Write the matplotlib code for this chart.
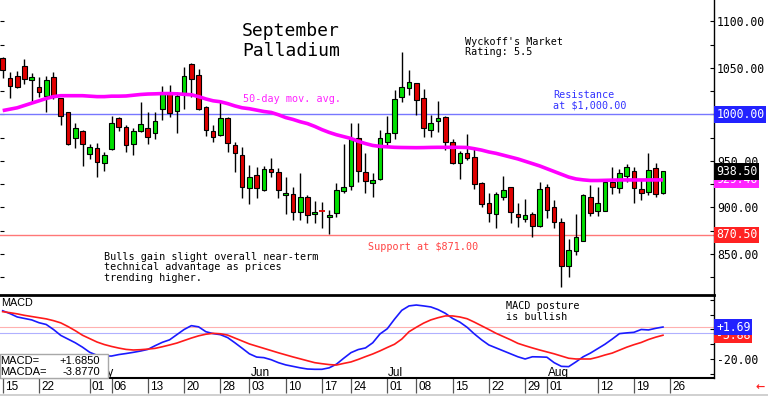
import numpy as np
import pandas as pd
import matplotlib
matplotlib.use('Agg')
import matplotlib.pyplot as plt
from matplotlib.patches import Rectangle
from matplotlib.lines import Line2D
from matplotlib.transforms import blended_transform_factory

# ---------------- data ----------------
holidays = ['2024-05-27', '2024-06-19', '2024-07-04']
start_date = '2024-04-15'
end_date = '2024-08-23'

opens = [1061, 1038.7, 1041.5, 1052.3, 1036.4, 1029.7, 1020, 1039.7, 1017, 1002.8,
         975, 982, 957, 963.4, 947.3, 962.7, 995.7, 986.7, 967.7, 982,
         984.9, 979.5, 1005.3, 1022.5, 1004, 1021.8, 1054.1, 1042.3, 1008.2, 982.4,
         977.7, 995.7, 967, 956.2, 920.4, 934.7, 918.6, 940.8, 938.3, 912.9,
         914.3, 895.3, 910.7, 892.5, 896.2, 890, 894.2, 917.9, 923.3, 974.9,
         938.3, 926.4, 930.1, 970.6, 980.2, 1018.2, 1028.6, 1033.3, 1017.2, 983.1,
         993.2, 997.5, 970.6, 948, 958, 953.7, 926.4, 905, 892.8, 911.4,
         921.5, 892.8, 887.4, 892.8, 879.9, 922.2, 900.7, 884.5, 836.9, 853.4,
         864.1, 911.4, 896.4, 896.4, 927.6, 920.4, 933.7, 939.4, 919.3, 916.8,
         941.9, 915.7]
highs = [1062, 1045, 1047, 1059.5, 1044, 1039.7, 1041.5, 1046, 1017.5, 1003,
         990.3, 983, 967.7, 968.8, 959, 998.2, 997.5, 988.5, 985, 1013.6,
         1002, 1002, 1030.8, 1032, 1024.3, 1051.2, 1054.8, 1048.4, 1009, 988.5,
         1013.6, 997.5, 970.6, 964.5, 945.5, 943.7, 944.4, 952.7, 942, 933,
         922.2, 937.2, 913.3, 907, 906, 897, 925.8, 968.1, 990.3, 990.3,
         958, 936.5, 983.1, 998.2, 1026.1, 1067.3, 1047.6, 1034, 1026.8, 999.2,
         1014.7, 998, 973.1, 960.9, 978.8, 963.4, 927.6, 915, 916.8, 933.7,
         922, 905, 908.6, 895.3, 926.8, 925.1, 907.8, 888.1, 865.6, 892.8,
         914, 924, 922.2, 929.4, 943, 940.8, 946.6, 943.7, 929.4, 958.7,
         947.3, 939.4]
lows = [1039, 1018, 1028, 1033, 1013.6, 1018.3, 1002.8, 1016.5, 988.5, 967,
        963.4, 944.8, 951.6, 932.2, 939, 962, 982, 959, 956.2, 981,
        967.7, 973.4, 993.9, 997.5, 979.5, 1005.3, 1018.2, 1004.6, 976.7, 970.6,
        977, 959.8, 938.3, 909.6, 903.5, 909.6, 918, 933, 909.6, 892.8,
        886.3, 886.3, 882.8, 882.8, 877.4, 871, 890, 915.7, 918.6, 927.6,
        915, 910.7, 929.3, 965.9, 973.1, 1013.6, 1020.8, 999.2, 976, 976,
        981.3, 961.6, 946.6, 930.1, 950.9, 919.3, 900.7, 884.5, 877.4, 907.8,
        883.5, 878.5, 884.5, 868.4, 879, 888.1, 877.4, 814.7, 825.4, 848.7,
        864, 890.6, 890.6, 896, 914.3, 915.7, 927.6, 904.3, 907.8, 913.2,
        910.7, 914.3]
closes = [1047.5, 1030.4, 1029.7, 1037.6, 1039.7, 1024.3, 1036.8, 1019, 998.5, 968,
          985.6, 967.7, 964.5, 948.4, 956.2, 990.3, 986, 967, 982, 989.2,
          976, 993.2, 1022.5, 1001.8, 1019.7, 1041.2, 1037.6, 1005.7, 983.1, 975.2,
          995.7, 968.8, 958, 921.5, 932.2, 920.4, 941.2, 938.3, 918.6, 915.7,
          895.3, 910.7, 891.7, 895.3, 895.8, 891.5, 918.6, 922.2, 973.1, 939.4,
          928.6, 929.3, 974.9, 979.5, 1016.5, 1029.7, 1035.1, 1015.4, 985.6, 991,
          996, 970.6, 948, 958.7, 952.7, 925.1, 903.5, 894.2, 914.3, 918.6,
          894.6, 889.2, 891.7, 879.9, 919.3, 897.1, 884.2, 836.9, 854.1, 867.7,
          913.2, 894.2, 904.3, 927.6, 921.5, 937.2, 943, 920.4, 915.7, 940.1,
          914.3, 938.5]
ma50 = [1004, 1005.5, 1007, 1009.5, 1012, 1014.5, 1017, 1019, 1020, 1020,
        1020, 1020, 1019.5, 1019, 1019, 1019.5, 1019.5, 1019.7, 1020.5, 1021.3,
        1021.8, 1022, 1022.3, 1022.3, 1022, 1021.5, 1021, 1019, 1016.5, 1014.5,
        1013.5, 1011.5, 1009, 1007, 1006, 1004.5, 1003, 1002, 999.5, 996.5,
        994.5, 992, 990, 987, 983.5, 980.5, 978, 976, 974, 971,
        968.5, 966.5, 965.5, 965, 964.5, 964.3, 964.2, 964.1, 964.2, 964.4,
        964.5, 964.5, 964.5, 964.5, 964.3, 963, 961.5, 959.5, 958, 956,
        954, 952, 949.5, 947, 944.5, 941.5, 938.5, 935.5, 932.5, 930.5,
        929.5, 928.8, 928.8, 929, 929.2, 929.4, 929.4, 929.4, 929.4, 929.4,
        929.45, 929.46]
macd = [12.7, 10.8, 8.5, 7.5, 6.5, 4.6, 3.4, 0, -4, -6.5,
        -9, -12, -15.5, -17.5, -18, -18, -17, -16.3, -15.5, -14.6,
        -13.5, -11, -8.7, -7, -3.5, 0, 2.6, 1.8, -1.5, -2.8,
        -3.5, -5.5, -9, -12.7, -16.5, -18.7, -19.1, -20.5, -22.5, -24,
        -25, -26, -26.8, -27, -27, -26, -23.5, -19.5, -15.7, -13.6,
        -12.5, -9, -3, 0.5, 7, 13, 16, 16.6, 16, 15.3,
        13.5, 11, 7.5, 5, 1.5, -3, -7, -10.5, -12.5, -14.5,
        -16.5, -18.5, -20, -18.5, -18.6, -18.8, -22.5, -25, -25.2, -22,
        -18.5, -16, -13, -10, -6.5, -2.8, -2.3, -1.9, 0, -0.3,
        0.8, 1.685]
signal = [12.1, 11.4, 10.6, 9.6, 8.8, 8, 7.2, 6, 4.5, 2,
          -0.8, -3.9, -6.2, -8.5, -10.2, -11.5, -12.6, -13.5, -13.9, -13.7,
          -13.3, -12.8, -11.7, -10.5, -9.2, -7.5, -5.8, -4.3, -3.2, -2.6,
          -2.9, -3.8, -5.8, -7.8, -9.8, -11.3, -12.8, -14.3, -15.8, -17.2,
          -18.6, -19.9, -21.2, -22.5, -23.2, -23.8, -24.1, -23, -22, -20.3,
          -18.4, -16.6, -14.5, -12.2, -10, -6.5, -1.5, 1.5, 4.3, 6.5,
          8, 9.2, 9.2, 8.5, 7.3, 5, 2.5, 0, -2.6, -4.8,
          -7, -9.4, -11, -12.5, -13.9, -15.2, -16.5, -18, -19.5, -20,
          -20, -20, -18.8, -17.3, -16, -14, -12, -10.3, -8.8, -6.8,
          -5.2, -3.877]

resistance = 1000.0
support = 870.5
macd_ref_lines = [1.5, -2.6]
price_ticks = [850, 900, 950, 1050, 1100]
price_minor = [825, 875, 925, 975, 1000, 1025, 1075]
macd_ticks = [-20]
macd_minor = [-30, -10, 0, 10, 20]

tick_dates = ['2024-04-15', '2024-04-22', '2024-05-01', '2024-05-06', '2024-05-13',
              '2024-05-20', '2024-05-28', '2024-06-03', '2024-06-10', '2024-06-17',
              '2024-06-24', '2024-07-01', '2024-07-08', '2024-07-15', '2024-07-22',
              '2024-07-29', '2024-08-01', '2024-08-12', '2024-08-19', '2024-08-26']
month_labels = ['May', 'Jun', 'Jul', 'Aug']
month_dates = ['2024-05-01', '2024-06-03', '2024-07-01', '2024-08-01']

# ---------------- figure ----------------
W, H = 768, 396
fig = plt.figure(figsize=(W / 100, H / 100), dpi=100)
fig.patch.set_facecolor('white')

def fx(px):
    return px / W

def fy(py):
    return 1 - py / H

MONO = 'DejaVu Sans Mono'
SANS = ['Liberation Sans', 'DejaVu Sans']

ax = fig.add_axes([0, fy(295), fx(714), 295 / H])
axm = fig.add_axes([0, fy(378), fx(714), 83 / H], sharex=ax)

n = len(opens)
x = np.arange(n)

# candles
for i in range(n):
    o, h, l, c = opens[i], highs[i], lows[i], closes[i]
    ax.vlines(i, l, h, color='black', lw=1.0, zorder=3)
    col = '#00e000' if c > o else '#e00000'
    if abs(c - o) < 1.0:
        ax.hlines((o + c) / 2, i - 0.35, i + 0.35, color=col, lw=1.3, zorder=4)
    else:
        ax.add_patch(Rectangle((i - 0.32, min(o, c)), 0.64, abs(c - o),
                               facecolor=col, edgecolor='black', lw=0.8, zorder=4))

ax.plot(x, ma50, color='#ff00ff', lw=2.6, zorder=5, solid_capstyle='butt')
ax.axhline(resistance, color='#7777ff', lw=1.0, zorder=2)
ax.axhline(support, color='#ff7777', lw=1.0, zorder=2)

ax.set_xlim(-0.372, 98.03)
ax.set_ylim(805.7, 1122.9)

for s in ['top', 'left', 'bottom']:
    ax.spines[s].set_visible(False)
ax.spines['right'].set_color('black')
ax.spines['right'].set_linewidth(1.0)
ax.yaxis.tick_right()
ax.set_yticks(price_ticks)
ax.set_yticklabels([f'{v:.2f}' for v in price_ticks])
ax.set_yticks(price_minor, minor=True)
ax.tick_params(axis='y', which='both', direction='in', length=3, width=0.8,
               left=True, right=True, labelleft=False, labelright=True, pad=2,
               labelsize=8.3, colors='black')
for t in ax.get_yticklabels():
    t.set_fontfamily(MONO)
ax.tick_params(axis='x', which='both', bottom=False, top=False, labelbottom=False)

tr = blended_transform_factory(ax.transAxes, ax.transData)

def right_box(axis, trans, y, txt, fc, z):
    axis.text(1.003, y, txt, transform=trans, ha='left', va='center', color='white',
              fontsize=8.3, fontfamily=MONO, clip_on=False, zorder=z,
              bbox=dict(boxstyle='square,pad=0.15', fc=fc, ec='none'))

right_box(ax, tr, resistance, f'{resistance:.2f}', '#2222ff', 10)
right_box(ax, tr, support, f'{support:.2f}', '#ff2222', 10)
right_box(ax, tr, ma50[-1], f'{ma50[-1]:.2f}', '#ff22ff', 10)
right_box(ax, tr, closes[-1], f'{closes[-1]:.2f}', '#000000', 11)

# MACD panel
axm.plot(x, macd, color='#1a1aff', lw=1.2, zorder=4)
axm.plot(x, signal, color='#ff1a1a', lw=1.2, zorder=4)
axm.axhline(macd_ref_lines[0], color='#ffb0b0', lw=0.8, zorder=2)
axm.axhline(macd_ref_lines[1], color='#b0b0ff', lw=0.8, zorder=2)
axm.set_ylim(-32.9, 23.4)
axm.spines['left'].set_visible(False)
axm.spines['top'].set_linewidth(2.0)
axm.spines['bottom'].set_linewidth(1.5)
axm.spines['right'].set_linewidth(1.0)
axm.yaxis.tick_right()
axm.set_yticks(macd_ticks)
axm.set_yticklabels([f'{v:.2f}' for v in macd_ticks])
axm.set_yticks(macd_minor, minor=True)
axm.tick_params(axis='y', which='both', direction='in', length=3, width=0.8,
                left=False, right=True, labelright=True, pad=2, labelsize=8.3)
for t in axm.get_yticklabels():
    t.set_fontfamily(MONO)

trm = blended_transform_factory(axm.transAxes, axm.transData)
right_box(axm, trm, signal[-1], f'{signal[-1]:.2f}', '#ff2222', 10)
right_box(axm, trm, macd[-1], f'{macd[-1]:+.2f}', '#2222ff', 11)

# date axis
hol = np.array(holidays, dtype='datetime64[D]')
tick_pos = [int(np.busday_count(np.datetime64(start_date), np.datetime64(d), holidays=hol))
            for d in tick_dates]
axm.set_xticks(tick_pos)
axm.tick_params(axis='x', which='major', direction='out', length=11, width=0.9,
                color='#555555', labelbottom=False)
trd = blended_transform_factory(axm.transData, fig.transFigure)
for d, p in zip(tick_dates, tick_pos):
    axm.text(p + 0.3, fy(387.5), d[-2:], transform=trd, ha='left', va='center',
             fontsize=8.5, family=SANS, clip_on=False)
for lab, d in zip(month_labels, month_dates):
    p = int(np.busday_count(np.datetime64(start_date), np.datetime64(d), holidays=hol))
    axm.text(p + 0.15, fy(373), lab, transform=trd, ha='left', va='center',
             fontsize=8.5, family=SANS, clip_on=False)

fig.add_artist(Line2D([0, 1], [fy(394.5), fy(394.5)], color='#c8c8c8', lw=1.2))
fig.text(fx(756), fy(387), '\u2190', color='#ff2020', fontsize=8, fontweight='bold',
         ha='left', va='center')

# annotation texts
fig.text(fx(242), fy(36.5), 'September', fontsize=13, family=MONO, ha='left', va='baseline')
fig.text(fx(242), fy(55.5), 'Palladium', fontsize=13, family=MONO, ha='left', va='baseline')
fig.text(fx(465), fy(42), "Wyckoff's Market", fontsize=7.3, family=MONO, va='center')
fig.text(fx(465), fy(52), 'Rating: 5.5', fontsize=7.3, family=MONO, va='center')
fig.text(fx(243), fy(98.5), '50-day mov. avg.', fontsize=7.3, family=MONO, va='center',
         color='#ff22ff')
fig.text(fx(553), fy(95.3), 'Resistance', fontsize=7.3, family=MONO, va='center',
         color='#3333ff')
fig.text(fx(553), fy(105.7), 'at $1,000.00', fontsize=7.3, family=MONO, va='center',
         color='#3333ff')
fig.text(fx(367.5), fy(246.5), 'Support at $871.00', fontsize=7.3, family=MONO,
         va='center', color='#ff4444')
fig.text(fx(104.5), fy(256.7), 'Bulls gain slight overall near-term', fontsize=7.3,
         family=MONO, va='center')
fig.text(fx(104.5), fy(267.2), 'technical advantage as prices', fontsize=7.3,
         family=MONO, va='center')
fig.text(fx(104.5), fy(277.7), 'trending higher.', fontsize=7.3, family=MONO, va='center')
fig.text(fx(506.5), fy(306), 'MACD posture', fontsize=7.3, family=MONO, va='center')
fig.text(fx(506.5), fy(316.7), 'is bullish', fontsize=7.3, family=MONO, va='center')
fig.text(fx(1.5), fy(302.5), 'MACD', fontsize=7.8, family=SANS, va='center')

# MACD value legend box
fig.add_artist(Rectangle((0, fy(378)), fx(108), 24 / H, transform=fig.transFigure,
                         facecolor='white', edgecolor='#a8a8a8', lw=1.0, zorder=1))
fig.text(fx(0.5), fy(360.8), 'MACD=', fontsize=8, family=SANS, va='center')
fig.text(fx(100), fy(360.8), f'{macd[-1]:+.4f}', fontsize=8, family=SANS, va='center',
         ha='right')
fig.text(fx(0.5), fy(371.8), 'MACDA=', fontsize=8, family=SANS, va='center')
fig.text(fx(100), fy(371.8), f'{signal[-1]:+.4f}', fontsize=8, family=SANS, va='center',
         ha='right')

fig.savefig('out.png', dpi=100, facecolor='white')
